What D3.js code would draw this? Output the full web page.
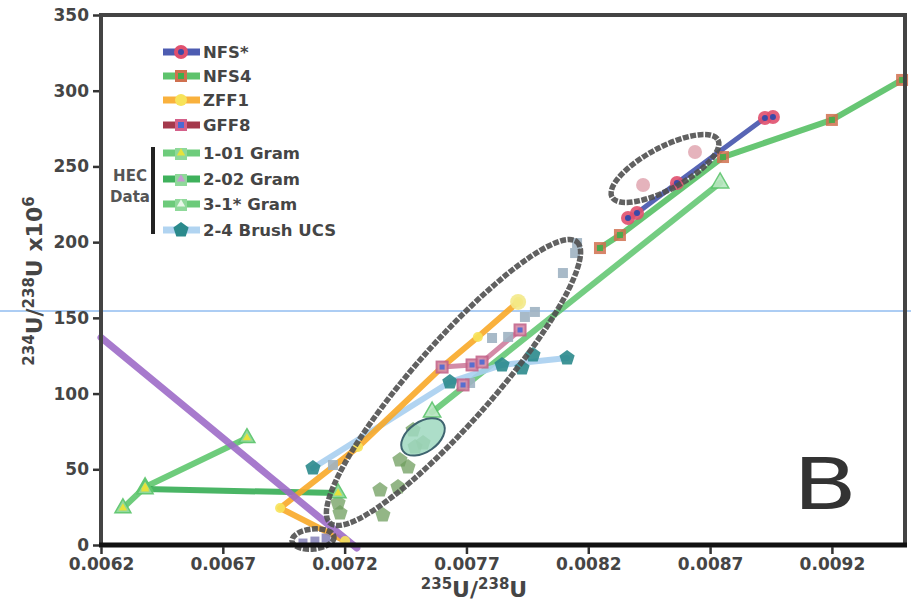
<!DOCTYPE html>
<html><head><meta charset="utf-8">
<script src="https://cdn.jsdelivr.net/npm/d3@7"></script>
<style>body{margin:0;background:#fff}svg{display:block}</style>
</head><body><svg id="c" width="911" height="603"></svg>
<script>
// ---------- data ----------
const xTicks = [0.0062, 0.0067, 0.0072, 0.0077, 0.0082, 0.0087, 0.0092];
const yTicks = [0, 50, 100, 150, 200, 250, 300, 350];
const legendLabels = ["NFS*", "NFS4", "ZFF1", "GFF8", "1-01 Gram", "2-02 Gram", "3-1* Gram", "2-4 Brush UCS"];
const groupLabel = ["HEC", "Data"];

const purpleTrend = [[0.00620,137],[0.00689,45.5],[0.00725,-2]];
const nfsStar = [[0.008363,215.9],[0.008400,219.2],[0.008564,239.1],[0.008925,282.0],[0.008958,282.6]];
const nfsStarFaded = [[0.008425,237.7],[0.008638,259.5]];
const nfs4 = [[0.008248,196.1],[0.008330,204.7],[0.008753,256.2],[0.009200,280.7],[0.009488,307.1]];
const zff1 = [[0.007202,2.6],[0.006935,24.4],[0.007255,64.7],[0.007600,117.5],[0.007747,137.4],[0.007912,160.5]];
const gff8 = [[0.007600,117.5],[0.007723,118.9],[0.007764,120.8],[0.007920,142.0]];
const gff8Extra = [[0.007686,105.7]];
const gram1a = [[0.006290,24.4],[0.006381,38.3],[0.006799,70.7]];
const gram1b = [[0.006381,36.9],[0.007173,34.3]];
const gram2 = [[0.007173,27.7],[0.007181,21.1],[0.007345,36.3],[0.007419,38.3],[0.007427,56.1],
               [0.007460,51.5],[0.007489,64.7],[0.007357,19.8],[0.007481,75.9],[0.007522,67.4]];
const gram3 = [[0.007559,87.8],[0.008741,239.1]];
const brush = [[0.007070,50.8],[0.007632,107.6],[0.007846,118.9],[0.008113,123.5]];
const brushExtra = [[0.007928,116.9],[0.007973,125.5]];
const steel = [[0.008146,192.8],[0.008154,199.4],[0.008096,179.6],[0.007981,153.9],[0.007940,150.6],
               [0.007871,137.4],[0.007805,136.7],[0.007715,107.0],[0.007152,52.8]];
const lavender = [[0.007029,1.3],[0.007078,2.6],[0.007124,4.6]];
// ellipse annotations: major-axis end points in data units
const ellipseAxes = [[0.0071399,14.5,0.0081537,200.1],[0.0082974,229.8,0.0087324,267.5],[0.0069840,2.6,0.0071563,5.3]];
const mintAxis = [0.0074396,62.1,0.0076037,80.6];

// ---------- setup ----------
const svg = d3.select("#c");
const W = 911, H = 603;
const L = 101, R = 905, T = 15, B = 545;
const x = d3.scaleLinear().domain([0.0062, 0.0095]).range([L, R]);
const y = d3.scaleLinear().domain([0, 350]).range([B, T]);
const font = "'DejaVu Sans', Verdana, sans-serif";
const txt = "#454545";
const line = d3.line().x(d => x(d[0])).y(d => y(d[1]));

const C = {
  purple: "#9d6cc8", blue: "#3a4aa8", pink: "#e0506e", green: "#4cbc5c", brown: "#d0704f",
  orange: "#f8a928", yellow: "#f7e35a", dred: "#9a2438", mauve: "#c4648a", bcenter: "#4a6ad4",
  g1: "#5ec66e", g2: "#2aa84a", g3: "#5cc46c", lblue: "#a9cfef", teal: "#2b8a8c",
  olive: "#6f9e5e", steel: "#9fb3c2", lav: "#8986ba", ell: "#505050"
};

// guide line across the picture
svg.append("line").attr("x1", 0).attr("x2", W).attr("y1", 311).attr("y2", 311)
  .attr("stroke", "#5a9be8").attr("stroke-width", 1);

const g = svg.append("g");

function pentagon(r) {
  return d3.range(5).map(k => {
    const a = -Math.PI / 2 + k * 2 * Math.PI / 5;
    return [r * Math.cos(a), r * Math.sin(a)];
  });
}
function drawLine(data, color, w, op) {
  g.append("path").attr("d", line(data)).attr("fill", "none").attr("stroke", color)
    .attr("stroke-width", w).attr("stroke-opacity", op == null ? 0.9 : op)
    .attr("stroke-linejoin", "round").attr("stroke-linecap", "round");
}
function circles(data, r, fill, stroke, op) {
  g.selectAll(null).data(data).enter().append("circle")
    .attr("cx", d => x(d[0])).attr("cy", d => y(d[1])).attr("r", r)
    .attr("fill", fill).attr("stroke", stroke || "none").attr("stroke-width", 2)
    .attr("opacity", op == null ? 1 : op);
}
function squares(data, s, fill, stroke, op) {
  g.selectAll(null).data(data).enter().append("rect")
    .attr("x", d => x(d[0]) - s / 2).attr("y", d => y(d[1]) - s / 2).attr("width", s).attr("height", s)
    .attr("fill", fill).attr("stroke", stroke || "none").attr("stroke-width", 2)
    .attr("opacity", op == null ? 1 : op);
}
function pentas(data, r, fill, op) {
  g.selectAll(null).data(data).enter().append("polygon")
    .attr("points", d => pentagon(r).map(p => [p[0] + x(d[0]), p[1] + y(d[1])].join(",")).join(" "))
    .attr("fill", fill).attr("opacity", op == null ? 1 : op);
}
function tris(data, s, fill, stroke, op) {
  const sym = d3.symbol().type(d3.symbolTriangle).size(s);
  g.selectAll(null).data(data).enter().append("path")
    .attr("d", sym).attr("transform", d => `translate(${x(d[0])},${y(d[1])})`)
    .attr("fill", fill).attr("stroke", stroke || "none").attr("stroke-width", 1.5)
    .attr("opacity", op == null ? 1 : op);
}

// ---------- series ----------
drawLine(gram1a, C.g1, 6, 0.9);
drawLine(gram1b, C.g2, 6, 0.85);
drawLine(gram3, C.g3, 6, 0.85);
drawLine(nfs4, C.green, 6, 0.85);
drawLine(brush, C.lblue, 6, 0.9);
drawLine(zff1, C.orange, 6, 0.9);
drawLine(gff8, C.mauve, 5, 0.75);
drawLine(nfsStar, C.blue, 5, 0.85);
drawLine(purpleTrend, C.purple, 7, 0.9);

// scatter / markers
pentas(gram2, 8, C.olive, 0.75);
squares(steel, 10, C.steel, null, 0.9);
squares(lavender, 9, C.lav, null, 0.9);
tris(gram1a.concat(gram1b), 110, "#8fd99a", C.g1, 0.95);
tris(gram1a.concat(gram1b), 30, "#e6e23c", null, 1);
tris(gram3, 130, "#b8e6c0", "#5cc46c", 0.9);
circles(zff1, 5, C.yellow, null, 0.9);
circles([zff1[zff1.length - 1]], 8, "#f3e98a", null, 0.9);
pentas(brush.concat(brushExtra), 8, C.teal, 0.9);
squares(gff8.concat(gff8Extra), 11, "#d48aa8", C.mauve, 0.9);
squares(gff8.concat(gff8Extra), 5, C.bcenter, null, 0.9);
squares(nfs4, 12, C.brown, null, 0.85);
squares(nfs4, 6, "#3fae4c", null, 0.9);
circles(nfsStarFaded, 7, "#d48090", null, 0.6);
circles(nfsStar, 7, C.pink, null, 0.9);
circles(nfsStar, 3, C.blue, null, 1);

// ---------- ellipse annotations ----------
function ellAttrs(sel, a, ry) {
  const x1 = x(a[0]), y1 = y(a[1]), x2 = x(a[2]), y2 = y(a[3]);
  const cx = (x1 + x2) / 2, cy = (y1 + y2) / 2;
  const rx = Math.hypot(x2 - x1, y2 - y1) / 2;
  const ang = Math.atan2(y2 - y1, x2 - x1) * 180 / Math.PI;
  sel.attr("cx", 0).attr("cy", 0).attr("rx", rx).attr("ry", ry)
    .attr("transform", `translate(${cx},${cy}) rotate(${ang})`);
}
const mint = g.append("ellipse").attr("fill", "#9fd8bf").attr("fill-opacity", 0.85)
  .attr("stroke", "#3f6470").attr("stroke-width", 2);
ellAttrs(mint, mintAxis, 15);
const ellMinor = [40, 21, 10];
ellipseAxes.forEach((a, i) => {
  const e = g.append("ellipse").attr("fill", "none").attr("stroke", C.ell)
    .attr("stroke-width", 5.5).attr("stroke-dasharray", "6 1.5").attr("stroke-opacity", 0.9);
  ellAttrs(e, a, ellMinor[i]);
});

// ---------- axes ----------
const ax = svg.append("g");
ax.append("rect").attr("x", L).attr("y", T).attr("width", R - L).attr("height", B - T)
  .attr("fill", "none").attr("stroke", "#444").attr("stroke-width", 4);
ax.append("line").attr("x1", L - 2).attr("x2", R + 2).attr("y1", B).attr("y2", B)
  .attr("stroke", "#111").attr("stroke-width", 5);

const yAxis = d3.axisLeft(y).tickValues(yTicks).tickSize(6).tickPadding(4).tickFormat(d3.format("d"));
const yg = svg.append("g").attr("transform", `translate(${L - 2},0)`).call(yAxis);
const xAxis = d3.axisBottom(x).tickValues(xTicks).tickSize(7).tickPadding(4).tickFormat(d => d.toFixed(4));
const xg = svg.append("g").attr("transform", `translate(0,${B + 2})`).call(xAxis);
[yg, xg].forEach(s => {
  s.select(".domain").remove();
  s.selectAll(".tick line").attr("stroke", "#333").attr("stroke-width", 2.5);
  s.selectAll(".tick text").attr("font-family", font).attr("font-weight", "bold")
    .attr("font-size", 17).attr("fill", txt);
});

// axis titles
const xt = svg.append("text").attr("x", 474).attr("y", 597).attr("text-anchor", "middle")
  .attr("font-family", font).attr("font-weight", "bold").attr("font-size", 22).attr("fill", txt);
xt.append("tspan").attr("font-size", 15).attr("dy", -8).text("235");
xt.append("tspan").attr("dy", 8).text("U/");
xt.append("tspan").attr("font-size", 15).attr("dy", -8).text("238");
xt.append("tspan").attr("dy", 8).text("U");

const yt = svg.append("text").attr("transform", "translate(42,281) rotate(-90)").attr("text-anchor", "middle")
  .attr("font-family", font).attr("font-weight", "bold").attr("font-size", 22).attr("fill", txt);
yt.append("tspan").attr("font-size", 15).attr("dy", -8).text("234");
yt.append("tspan").attr("dy", 8).text("U/");
yt.append("tspan").attr("font-size", 15).attr("dy", -8).text("238");
yt.append("tspan").attr("dy", 8).text("U x10");
yt.append("tspan").attr("font-size", 15).attr("dy", -8).text("6");

// panel letter
svg.append("text").attr("transform", "translate(793,509) scale(1.3,1)").attr("font-family", "'DejaVu Sans', sans-serif")
  .attr("font-size", 72).attr("fill", "#333").text("B");

// ---------- legend ----------
const lg = svg.append("g");
const rowY = [52, 76, 100, 125, 153, 179, 204, 230];
const legLine = [C.blue, C.green, C.orange, C.dred, C.g1, C.g2, C.g3, C.lblue];
rowY.forEach((ry, i) => {
  lg.append("line").attr("x1", 163).attr("x2", 200).attr("y1", ry).attr("y2", ry)
    .attr("stroke", legLine[i]).attr("stroke-width", 7).attr("stroke-opacity", 0.9);
  const mx = 181;
  if (i === 0) {
    lg.append("circle").attr("cx", mx).attr("cy", ry).attr("r", 7).attr("fill", C.pink);
    lg.append("circle").attr("cx", mx).attr("cy", ry).attr("r", 3).attr("fill", C.blue);
  } else if (i === 1) {
    lg.append("rect").attr("x", mx - 6).attr("y", ry - 6).attr("width", 12).attr("height", 12).attr("fill", C.brown);
    lg.append("rect").attr("x", mx - 3).attr("y", ry - 3).attr("width", 6).attr("height", 6).attr("fill", "#3fae4c");
  } else if (i === 2) {
    lg.append("circle").attr("cx", mx).attr("cy", ry).attr("r", 6).attr("fill", C.yellow);
  } else if (i === 3) {
    lg.append("rect").attr("x", mx - 6).attr("y", ry - 6).attr("width", 12).attr("height", 12).attr("fill", "#d4608a");
    lg.append("rect").attr("x", mx - 3).attr("y", ry - 3).attr("width", 6).attr("height", 6).attr("fill", C.bcenter);
  } else if (i < 7) {
    const inner = ["#e6e23c", "#c49ad0", "#e8f6e8"][i - 4];
    lg.append("rect").attr("x", mx - 6).attr("y", ry - 5).attr("width", 12).attr("height", 12).attr("fill", "#8fd99a");
    lg.append("path").attr("d", d3.symbol().type(d3.symbolTriangle).size(30)())
      .attr("transform", `translate(${mx},${ry})`).attr("fill", inner);
  } else {
    lg.append("polygon").attr("points", pentagon(8).map(p => [p[0] + mx, p[1] + ry].join(",")).join(" "))
      .attr("fill", C.teal);
  }
  lg.append("text").attr("x", 203).attr("y", ry + 6).attr("font-family", font).attr("font-weight", "bold")
    .attr("font-size", 16.5).attr("fill", txt).text(legendLabels[i]);
});
lg.append("rect").attr("x", 151).attr("y", 147).attr("width", 4).attr("height", 87).attr("fill", "#222");
groupLabel.forEach((t, i) => {
  lg.append("text").attr("x", 130).attr("y", 181 + i * 21).attr("text-anchor", "middle")
    .attr("font-family", font).attr("font-weight", "bold").attr("font-size", 15).attr("fill", "#555").text(t);
});
</script></body></html>
